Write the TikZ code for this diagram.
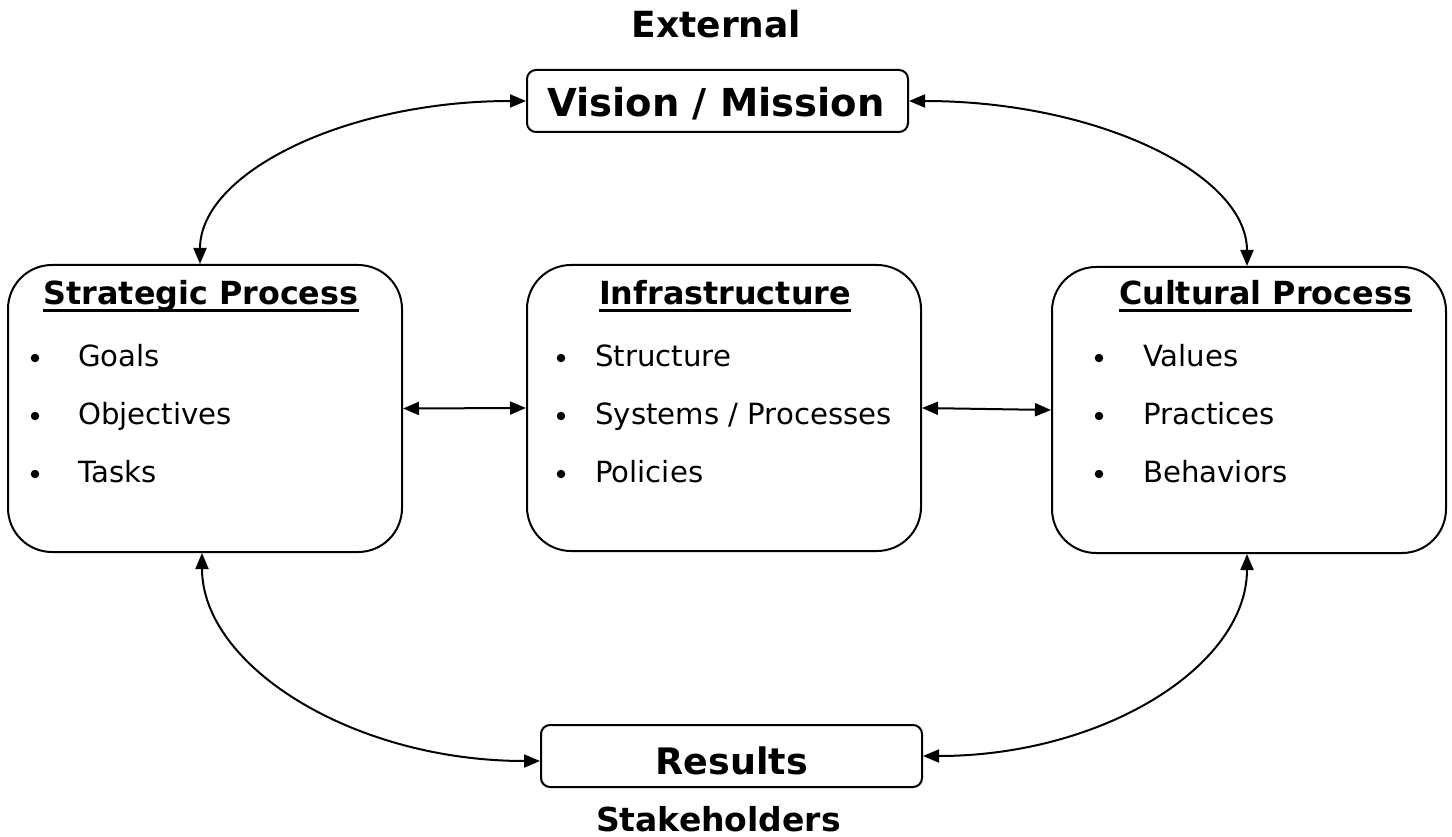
\documentclass[tikz,border=0pt]{standalone}
\usepackage{fontspec}
\setmainfont{DejaVu Sans}
\usetikzlibrary{arrows.meta,calc}
\begin{document}
\begin{tikzpicture}[x=1pt,y=-1pt,
  bigbox/.style={draw,line width=2pt,rounded corners=44pt,inner sep=0pt},
  smallbox/.style={draw,line width=2pt,rounded corners=9pt,inner sep=0pt},
  conn/.style={line width=2pt,{Triangle[length=16pt,width=13pt]}-{Triangle[length=16pt,width=13pt]}},
  vmtext/.style={font=\fontsize{38.5}{44}\selectfont\bfseries,inner sep=0pt,anchor=base},
  rstext/.style={font=\fontsize{36.5}{44}\selectfont\bfseries,inner sep=0pt,anchor=base},
  title/.style={font=\fontsize{36}{40}\selectfont\bfseries,inner sep=0pt,anchor=base},
  stktitle/.style={font=\fontsize{33}{40}\selectfont\bfseries,inner sep=0pt,anchor=base},
  heading/.style={font=\fontsize{31.8}{36}\selectfont\bfseries,inner sep=0pt,anchor=base},
  itemtext/.style={font=\fontsize{29.2}{34}\selectfont,inner sep=0pt,anchor=base west},
  bul/.style={circle,fill,inner sep=0pt,minimum size=8.5pt},
  uline/.style={line width=2.8pt}
]
\useasboundingbox (0,0) rectangle (1452,837);

% boxes
\node[smallbox,minimum width=381pt,minimum height=62pt] (vm) at (717.5,101) {};
\node[smallbox,minimum width=381pt,minimum height=62pt] (rs) at (731.5,756) {};
\node[bigbox,minimum width=394pt,minimum height=287pt] (sp) at (205,408.5) {};
\node[bigbox,minimum width=394pt,minimum height=286pt] (ib) at (724,408) {};
\node[bigbox,minimum width=394pt,minimum height=286pt] (cp) at (1249,410) {};

% big texts
\node[title] (ext) at (716.5,38) {External};
\node[vmtext] (vmt) at (716,117) {Vision / Mission};
\node[rstext] (rst) at (732,774) {Results};
\node[stktitle] (stk) at (718.5,831) {Stakeholders};

% headings
\node[heading] (sph) at (201,305) {Strategic Process};
\node[heading] (ibh) at (725,305) {Infrastructure};
\node[heading] (cph) at (1265.5,305) {Cultural Process};
\foreach \h in {sph,ibh,cph}{
  \draw[uline] ($(\h.base west)+(0,5.5)$) -- ($(\h.base east)+(0,5.5)$);
}

% items
\node[bul] (b1) at (35,358) {};
\node[bul] (b2) at (35,416) {};
\node[bul] (b3) at (35,474) {};
\node[itemtext] (g1) at (78,366) {Goals};
\node[itemtext] (g2) at (78,424) {Objectives};
\node[itemtext] (g3) at (78,482) {Tasks};

\node[bul] (c1) at (561,358) {};
\node[bul] (c2) at (561,416) {};
\node[bul] (c3) at (561,474) {};
\node[itemtext] (h1) at (595,366) {Structure};
\node[itemtext] (h2) at (595,424) {Systems / Processes};
\node[itemtext] (h3) at (595,482) {Policies};

\node[bul] (d1) at (1099,358) {};
\node[bul] (d2) at (1099,416) {};
\node[bul] (d3) at (1099,474) {};
\node[itemtext] (k1) at (1143,366) {Values};
\node[itemtext] (k2) at (1143,424) {Practices};
\node[itemtext] (k3) at (1143,482) {Behaviors};

% connectors
\draw[conn] (sp.east) -- (ib.west);
\draw[conn] (ib.east) -- (cp.west);
\draw[conn] (vm.west) .. controls +(-181,0) and +(0,-91) .. ($(sp.north)+(-5,0)$);
\draw[conn] (vm.east) .. controls +(188,0) and +(0,-92) .. ($(cp.north)+(-2,0)$);
\draw[conn] ($(sp.south)+(-3,0)$) .. controls +(0,113) and +(-187,0) .. ($(rs.west)+(0,5)$);
\draw[conn] ($(cp.south)+(-2,0)$) .. controls +(0,112) and +(180,0) .. (rs.east);
\end{tikzpicture}
\end{document}
